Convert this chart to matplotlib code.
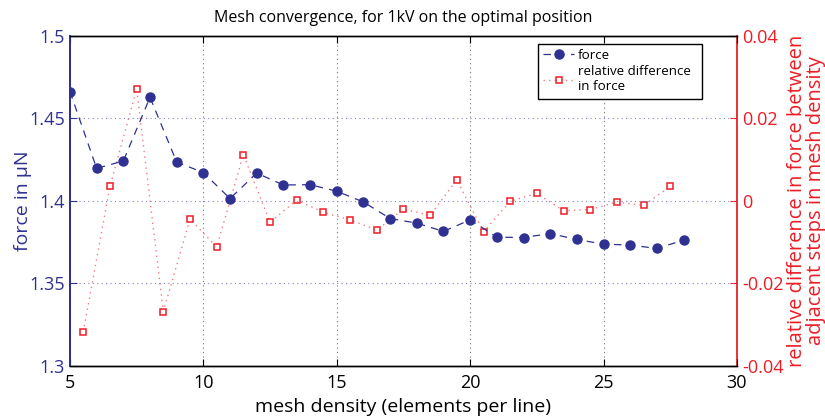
import matplotlib
matplotlib.use("Agg")
import matplotlib.pyplot as plt
import numpy as np

plt.rcParams['font.family'] = ['Open Sans', 'DejaVu Sans']

mesh_density = [5, 6, 7, 8, 9, 10, 11, 12, 13, 14, 15, 16, 17, 18, 19, 20,
                21, 22, 23, 24, 25, 26, 27, 28]
force = [1.4662, 1.4197, 1.4241, 1.4627, 1.4235, 1.4171, 1.4014, 1.4168,
         1.4096, 1.4098, 1.4058, 1.3993, 1.3893, 1.3865, 1.3815, 1.3885,
         1.3780, 1.3778, 1.3802, 1.3766, 1.3738, 1.3732, 1.3712, 1.3762]
diff_x = [5.5, 6.5, 7.5, 8.5, 9.5, 10.5, 11.5, 12.5, 13.5, 14.5, 15.5, 16.5,
          17.5, 18.5, 19.5, 20.5, 21.5, 22.5, 23.5, 24.5, 25.5, 26.5, 27.5]
rel_diff = [-0.0317, 0.0035, 0.0271, -0.0268, -0.0044, -0.0112, 0.0112,
            -0.0052, 0.0002, -0.0028, -0.0046, -0.0071, -0.0020, -0.0035,
            0.0051, -0.0075, -0.0001, 0.0018, -0.0024, -0.0021, -0.0003,
            -0.0011, 0.0035]

x_ticks = [5, 10, 15, 20, 25, 30]
left_ticks = [1.3, 1.35, 1.4, 1.45, 1.5]
right_ticks = [-0.04, -0.02, 0, 0.02, 0.04]

navy = '#2E3192'
red = '#ED1C24'
pink = '#F47C80'

fig = plt.figure(figsize=(8.25, 4.17), dpi=100)
ax = fig.add_axes([0.0848, 0.1223, 0.8085, 0.7921])
ax2 = ax.twinx()

ax.set_zorder(ax2.get_zorder() + 1)
ax.patch.set_visible(False)

l1, = ax.plot(mesh_density, force, linestyle=(0, (6, 5)), color=navy, lw=0.9,
              marker='o', markersize=6.5, markerfacecolor=navy,
              markeredgecolor=navy, label='force')
l2, = ax2.plot(diff_x, rel_diff, linestyle=(0, (1, 3)), color=pink, lw=1.0,
               marker='s', markersize=5, markerfacecolor='white',
               markeredgecolor=red, markeredgewidth=1.1,
               label='relative difference\nin force')

ax.set_xlim(5, 30)
ax.set_ylim(1.3, 1.5)
ax2.set_ylim(-0.04, 0.04)
ax.set_xticks(x_ticks)
ax.set_xticklabels([str(t) for t in x_ticks])
ax.set_yticks(left_ticks)
ax.set_yticklabels(['1.3', '1.35', '1.4', '1.45', '1.5'])
ax2.set_yticks(right_ticks)
ax2.set_yticklabels(['-0.04', '-0.02', '0', '0.02', '0.04'])

ax.xaxis.grid(True, linestyle=(0, (1, 3)), color='#777777', lw=0.8)
ax.yaxis.grid(True, linestyle=(0, (1, 3)), color='#8080C8', lw=0.8)

ax.tick_params(axis='x', direction='in', length=5, labelsize=13, colors='black',
               top=True, pad=6)
ax.tick_params(axis='y', direction='in', length=5, labelsize=13, colors=navy)
ax2.tick_params(axis='y', direction='in', length=5, labelsize=13, colors=red)

ax.spines['left'].set_color(navy)
ax.spines['left'].set_linewidth(1.3)
ax2.spines['left'].set_color(navy)
ax2.spines['left'].set_linewidth(1.3)
ax2.spines['right'].set_color(red)
ax2.spines['right'].set_linewidth(1.3)
ax.spines['right'].set_visible(False)
for s in ['top', 'bottom']:
    ax.spines[s].set_linewidth(1.0)
    ax2.spines[s].set_linewidth(1.0)

ax.set_xlabel('mesh density (elements per line)', fontsize=14, labelpad=4)
ax.set_ylabel('force in µN', fontsize=14, color=navy)
ax.yaxis.set_label_coords(-0.057, 0.5)
fig.text(0.978, 0.518,
         'relative difference in force between\nadjacent steps in mesh density',
         rotation=90, ha='center', va='center', fontsize=14.5, color=red,
         linespacing=0.92)
ax.set_title('Mesh convergence, for 1kV on the optimal position',
             fontsize=11.5, pad=10)

leg = ax.legend(handles=[l1, l2], loc='upper left', mode='expand',
                bbox_to_anchor=(0.7016, 0.45, 0.2459, 0.5258),
                borderaxespad=0, fontsize=9.6, frameon=True,
                fancybox=False, edgecolor='black', framealpha=1,
                handlelength=2.3, borderpad=0.4, labelspacing=0.25,
                handletextpad=0.3)
leg.get_frame().set_linewidth(1.0)

fig.savefig('out.png', dpi=100)
